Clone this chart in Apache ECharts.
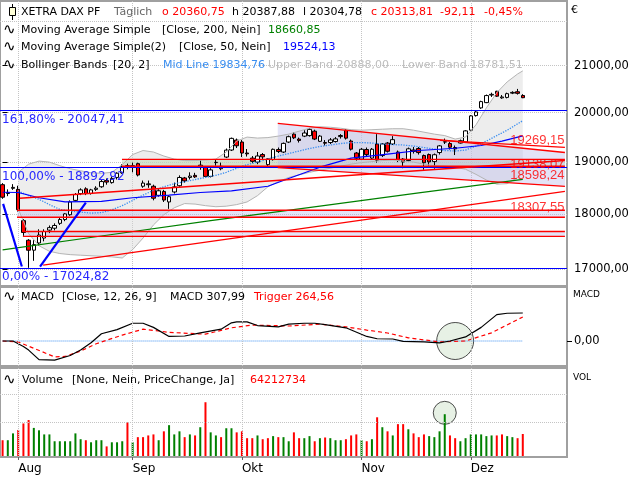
<!DOCTYPE html>
<html><head><meta charset="utf-8">
<script src="https://cdn.jsdelivr.net/npm/echarts@6/dist/echarts.min.js"></script>
<style>html,body{margin:0;padding:0;background:#fff}#c{width:640px;height:480px}</style>
</head><body><div id="c"></div>
<script>
// ---------- DATA ----------
const dates = ['2024-07-29','2024-07-30','2024-07-31','2024-08-01','2024-08-02','2024-08-05','2024-08-06','2024-08-07','2024-08-08','2024-08-09','2024-08-12','2024-08-13','2024-08-14','2024-08-15','2024-08-16','2024-08-19','2024-08-20','2024-08-21','2024-08-22','2024-08-23','2024-08-26','2024-08-27','2024-08-28','2024-08-29','2024-08-30','2024-09-02','2024-09-03','2024-09-04','2024-09-05','2024-09-06','2024-09-09','2024-09-10','2024-09-11','2024-09-12','2024-09-13','2024-09-16','2024-09-17','2024-09-18','2024-09-19','2024-09-20','2024-09-23','2024-09-24','2024-09-25','2024-09-26','2024-09-27','2024-09-30','2024-10-01','2024-10-02','2024-10-03','2024-10-04','2024-10-07','2024-10-08','2024-10-09','2024-10-10','2024-10-11','2024-10-14','2024-10-15','2024-10-16','2024-10-17','2024-10-18','2024-10-21','2024-10-22','2024-10-23','2024-10-24','2024-10-25','2024-10-28','2024-10-29','2024-10-30','2024-10-31','2024-11-01','2024-11-04','2024-11-05','2024-11-06','2024-11-07','2024-11-08','2024-11-11','2024-11-12','2024-11-13','2024-11-14','2024-11-15','2024-11-18','2024-11-19','2024-11-20','2024-11-21','2024-11-22','2024-11-25','2024-11-26','2024-11-27','2024-11-28','2024-11-29','2024-12-02','2024-12-03','2024-12-04','2024-12-05','2024-12-06','2024-12-09','2024-12-10','2024-12-11','2024-12-12','2024-12-13','2024-12-16'];
const futureDates = ['2024-12-17','2024-12-18','2024-12-19','2024-12-20','2024-12-23','2024-12-24','2024-12-27','2024-12-30'];
const monthStartIdx = [3, 25, 46, 69, 90];
const monthNames = ['Aug', 'Sep', 'Okt', 'Nov', 'Dez'];

const opens = [18560,18390,18490,18470,17880,17520,17340,17470,17560,17705,
17740,17830,17900,17990,18260,18390,18480,18390,18470,18520,
18640,18600,18700,18790,18930,18910,18970,18530,18560,18530,
18356,18430,18230,18420,18540,18690,18700,18740,18920,18900,
18720,18990,18870,19100,19240,19440,19400,19180,19080,19000,
19150,18950,19050,19250,19200,19400,19560,19460,19520,19530,
19620,19415,19390,19390,19410,19510,19640,19420,19180,19060,
19250,19080,19360,19130,19380,19360,19200,19060,19030,19240,
19270,19130,19150,19010,19190,19400,19370,19290,19380,19400,
19640,19940,20100,20210,20370,20450,20310,20320,20410,20440,
20360.75];
const closes = [18320,18411,18508,18083,17661,17339,17440,17615,17680,17750,
17790,17900,18006,18230,18370,18460,18390,18460,18493,18620,
18610,18681,18782,18912,18906,18930,18747,18591,18576,18301,
18443,18266,18330,18518,18699,18633,18727,18711,18940,18720,
18847,18996,18918,19238,19474,19325,19180,19164,19015,19121,
19104,19066,19254,19211,19373,19508,19486,19432,19583,19657,
19461,19520,19377,19443,19464,19532,19479,19257,19078,19255,
19148,19256,19039,19362,19215,19448,19034,19003,19264,19211,
19189,18988,19004,19146,19323,19406,19296,19262,19427,19626,
19934,20016,20232,20359,20385,20346,20329,20399,20426,20406,
20313.81];
const lows = [18290,18340,18460,18050,17600,17025,17150,17420,17500,17650,
17700,17800,17870,17970,18240,18360,18360,18370,18440,18500,
18560,18580,18660,18770,18860,18800,18720,18500,18500,18261,
18330,18230,18100,18390,18520,18600,18660,18690,18850,18700,
18700,18930,18840,19080,19220,19280,19100,19110,18980,18960,
19060,18920,19030,19180,19180,19380,19460,19390,19500,19510,
19440,19400,19330,19360,19390,19470,19450,19230,19030,19040,
19120,19050,18990,19100,19190,19340,19000,18880,19010,19170,
19150,18850,18930,18870,19150,19360,19250,19140,19370,19380,
19620,19920,20080,20200,20330,20330,20290,20300,20390,20380,
20304.78];
const highs = [18590,18470,18570,18540,17910,17540,17520,17720,17720,17790,
17830,17930,18020,18260,18400,18490,18510,18480,18530,18650,
18680,18720,18800,18960,18970,18990,18990,18640,18640,18560,
18490,18460,18360,18600,18740,18710,18800,18790,19040,18920,
18880,19050,18990,19270,19490,19470,19440,19260,19120,19200,
19180,19080,19270,19290,19390,19530,19600,19490,19640,19680,
19650,19540,19440,19480,19500,19560,19660,19450,19200,19280,
19290,19280,19560,19380,19400,19520,19230,19080,19290,19300,
19300,19150,19170,19170,19340,19470,19400,19330,19450,19640,
19950,20040,20250,20380,20420,20460,20370,20420,20450,20500,
20387.88];
const prevClose = 18417;
// volume in millions
const volumes = [46,46,66,76,95,105,82,75,63,63,
43,43,43,43,66,49,46,40,46,46,
28,40,40,43,98,40,55,55,60,63,
46,72,90,63,72,55,63,60,84,157,
69,60,55,81,81,69,72,52,52,60,
49,52,58,55,55,43,69,52,52,58,
43,52,54,52,46,46,49,60,63,46,
43,49,113,84,72,60,93,93,78,66,
55,63,58,55,72,122,60,52,43,52,
63,63,63,58,60,60,63,58,55,52,
64.21];

const sma200 = [[0,17345],[20,17611],[40,17880],[61,18152],[80,18403],[100,18661]];
const sma50 = [[0,18415],[3,18410],[7,18310],[12,18230],[19,18240],[25,18310],[32,18360],[38,18410],[44,18440],[51,18530],[55,18680],[61,18900],[67,19080],[74,19160],[80,19230],[87,19275],[92,19330],[96,19420],[100,19524]];
const bbUpper = [[3,18800],[5,18960],[7,19020],[9,19000],[11,18930],[13,18870],[15,18830],[17,18790],[19,18780],[21,18800],[23,18950],[25,19150],[27,19230],[29,19200],[31,19120],[33,19060],[35,19030],[37,19030],[39,19040],[41,19060],[43,19200],[45,19420],[47,19500],[49,19480],[51,19490],[53,19520],[55,19560],[57,19620],[59,19680],[61,19710],[63,19700],[65,19680],[67,19650],[69,19640],[71,19650],[73,19660],[75,19670],[77,19670],[79,19640],[81,19600],[83,19560],[85,19530],[87,19460],[89,19500],[91,19750],[93,20100],[95,20420],[97,20650],[99,20820],[100,20888]];
const bbLower = [[3,18100],[5,17640],[7,17420],[9,17320],[11,17280],[13,17260],[15,17250],[17,17240],[19,17230],[21,17220],[23,17200],[25,17350],[27,17560],[29,17800],[31,17990],[33,18120],[35,18200],[37,18190],[39,18160],[41,18140],[43,18150],[45,18180],[47,18230],[49,18350],[51,18520],[53,18620],[55,18700],[57,18750],[59,18800],[61,18840],[63,18880],[65,18920],[67,18960],[69,18990],[71,19010],[73,19030],[75,19040],[77,19020],[79,19000],[81,18960],[83,18930],[85,18920],[87,18900],[89,18860],[91,18760],[93,18650],[95,18570],[97,18580],[99,18700],[100,18781.51]];
const bbMid = [[3,18440],[5,18350],[7,18280],[9,18180],[11,18090],[13,18060],[15,18040],[17,18020],[19,18030],[21,18080],[23,18160],[25,18260],[27,18360],[29,18450],[31,18520],[33,18580],[35,18620],[37,18660],[39,18700],[41,18740],[43,18800],[45,18880],[47,18950],[49,19000],[51,19060],[53,19120],[55,19170],[57,19220],[59,19270],[61,19310],[63,19340],[65,19370],[67,19390],[69,19390],[71,19380],[73,19360],[75,19350],[77,19340],[79,19320],[81,19290],[83,19260],[85,19230],[87,19220],[89,19240],[91,19320],[93,19420],[95,19530],[97,19640],[99,19770],[100,19834.76]];

const macdLine = [[0,0],[2,0],[4,-60],[5,-100],[7,-205],[10,-210],[13,-160],[15,-100],[17,-20],[19,80],[22,125],[25,195],[27,195],[29,150],[32,50],[35,55],[38,90],[42,130],[44,200],[45,210],[47,210],[49,170],[53,155],[55,185],[58,195],[60,195],[62,180],[66,145],[70,50],[72,25],[75,22],[77,-5],[81,-10],[84,-20],[86,0],[89,45],[92,150],[95,290],[97,305],[100,307.99]];
const macdTrigger = [[0,0],[3,-10],[6,-80],[10,-175],[12,-170],[15,-110],[18,-30],[23,65],[27,130],[30,110],[32,95],[39,75],[44,145],[48,175],[55,165],[61,185],[66,155],[70,120],[74,88],[78,35],[84,-10],[89,0],[94,90],[100,264.56]];

// Fibonacci levels
const fibLevels = [20047.41, 18892.92, 17024.82];
const fibLabels = ['161,80% - 20047,41', '100,00% - 18892,92', '0,00% - 17024,82'];
const fibLegs = [[[0.1,18195],[3.7,17048]], [[7.2,17048],[16,18217]]];
// drawn trend lines / zones (bar index, price)
const redLines = [
  [[52.9,19780],[108.1,19190]],
  [[52.9,18892],[108.1,18527]],
  [[3.3,18300],[108.1,19033]],
  [[7.8,17074],[108.1,18431]],
  [[22.95,19054],[108.1,19054]],
  [[22.95,18920],[108.1,18920]],
  [[2.77,18073],[108.1,18073]],
  [[2.77,17942],[108.1,17942]],
  [[3.9,17680],[108.1,17680]],
  [[3.9,17590],[108.1,17590]],
  [[84.1,19433],[108.1,19292]]
];
const lavenderZones = [
  [[2.77,18073],[108.1,18073],[108.1,17942],[2.77,17942]],
  [[3.9,17680],[108.1,17680],[108.1,17590],[3.9,17590]],
  [[52.9,19780],[108.1,19190],[108.1,18527],[52.9,18892]]
];
const greenZones = [
  [[22.95,19054],[108.1,19054],[108.1,18913],[22.95,18913]]
];
const rightLabelText = ['19269,15', '19138,07', '18598,24', '18307,55'];
const rightLabelAt = [[108.3,19433],[108.3,18960],[108.3,18740],[108.3,18130]];
const macdCircle = [[87, 0]];
const volCircle = [[85, 126]];

const priceTicks = [17000, 18000, 19000, 20000, 21000];
const priceGrid = [17000, 18000, 19000, 20000, 21000, 22000];
const volGrid = [99, 181];

// ---------- CHART ----------
const chart = echarts.init(document.getElementById('c'), null, {renderer: 'canvas', width: 640, height: 480});
const cats = dates.concat(futureDates);
const candleData = opens.map((o, i) => [o, closes[i], lows[i], highs[i]]);
const volData = volumes.map((v, i) => ({
  value: v,
  itemStyle: {color: closes[i] >= (i ? closes[i - 1] : prevClose) ? '#008000' : '#ff0000'}
}));
const fmtNum = v => v.toFixed(2).replace('.', ',');
const dotted = {color: '#c4c4c4', type: 'dotted', width: 1};
const vLines = monthStartIdx.map(i => ({xAxis: i}));

function polySeries(polys, fill) {
  return {
    type: 'custom', xAxisIndex: 1, yAxisIndex: 0, silent: true, z: 1,
    data: polys.map((p, i) => [i]),
    renderItem: (params, api) => ({
      type: 'polygon',
      shape: {points: polys[params.dataIndex].map(pt => api.coord(pt))},
      style: {fill: fill}
    })
  };
}
function lineOv(data, color, width, type, z) {
  return {type: 'line', xAxisIndex: 1, yAxisIndex: 0, data: data, symbol: 'none', silent: true, z: z || 4,
    lineStyle: {color: color, width: width, type: type || 'solid'}};
}

const FONT = 'DejaVu Sans';
function txt(x, y, s, color, size, family) {
  return {type: 'text', x: x, y: y, silent: true, z: 100,
    style: {text: s, fill: color || '#000', font: (size || 11) + 'px "' + (family || FONT) + '"',
      verticalAlign: 'middle', textVerticalAlign: 'middle'}};
}

const series = [];
// Bollinger fill
series.push(polySeries([bbUpper.concat(bbLower.slice().reverse())], 'rgba(215,215,215,0.45)'));
series.push(polySeries(greenZones, 'rgba(185,215,175,0.5)'));
series.push(polySeries(lavenderZones, 'rgba(185,185,235,0.4)'));
// candles
series.push({
  type: 'candlestick', xAxisIndex: 0, yAxisIndex: 0, data: candleData, barWidth: 4, z: 3,
  itemStyle: {color: '#ffffff', color0: '#ff0000', borderColor: '#000000', borderColor0: '#000000', borderWidth: 1},
  markLine: {silent: true, symbol: ['none', 'none'], label: {show: false}, lineStyle: dotted, z: 0,
    data: priceGrid.map(v => ({yAxis: v})).concat(vLines)}
});
// Bollinger lines
series.push(lineOv(bbUpper, '#b4b4b4', 1));
series.push(lineOv(bbLower, '#b4b4b4', 1));
series.push(lineOv(bbMid, '#3a8ef0', 1.3, 'dotted'));
// Moving averages
series.push(Object.assign(lineOv(sma200, '#008000', 1.2), {
  markLine: {silent: true, symbol: ['none', 'none'], lineStyle: {color: '#0000ff', width: 1.2, type: 'solid'},
    label: {show: true, position: 'insideStartBottom', color: '#2828ff', fontSize: 12, fontFamily: FONT, distance: [2, 3]},
    data: fibLevels.map((v, i) => ({yAxis: v, label: {formatter: fibLabels[i]}}))}
}));
series.push(lineOv(sma50, '#0000ff', 1.2));
// red trend lines
redLines.forEach(seg => series.push(lineOv(seg, '#ff0000', 1.4, 'solid', 5)));
// blue fib legs
fibLegs.forEach(seg => series.push(lineOv(seg, '#0000ff', 2.2, 'solid', 5)));
// red value labels at the right edge
series.push({
  type: 'scatter', xAxisIndex: 1, yAxisIndex: 0, data: rightLabelAt, symbolSize: 1, silent: true, z: 6,
  itemStyle: {color: 'rgba(0,0,0,0)'},
  label: {show: true, position: 'left', distance: 1, color: '#ff0000', fontSize: 13, fontFamily: 'Liberation Sans',
    formatter: p => rightLabelText[p.dataIndex]}
});
// MACD
series.push({type: 'scatter', xAxisIndex: 2, yAxisIndex: 1, data: macdCircle, symbolSize: 37, silent: true, z: 1,
  itemStyle: {color: 'rgba(200,222,195,0.55)', borderColor: '#222', borderWidth: 1}});
series.push({type: 'line', xAxisIndex: 2, yAxisIndex: 1, data: [[0, 0], [100, 0]], symbol: 'none', silent: true, z: 2,
  lineStyle: {color: '#3a8ef0', width: 1, type: 'dotted'},
  markLine: {silent: true, symbol: ['none', 'none'], label: {show: false}, lineStyle: dotted, data: vLines}});
series.push({type: 'line', xAxisIndex: 2, yAxisIndex: 1, data: macdTrigger, symbol: 'none', silent: true, z: 3,
  lineStyle: {color: '#ff0000', width: 1.2, type: [4, 3]}});
series.push({type: 'line', xAxisIndex: 2, yAxisIndex: 1, data: macdLine, symbol: 'none', silent: true, z: 4,
  lineStyle: {color: '#000000', width: 1.2}});
// Volume
series.push({type: 'scatter', xAxisIndex: 3, yAxisIndex: 2, data: volCircle, symbolSize: 23, silent: true, z: 1,
  itemStyle: {color: 'rgba(200,222,195,0.55)', borderColor: '#222', borderWidth: 1}});
series.push({type: 'bar', xAxisIndex: 3, yAxisIndex: 2, data: volData, barWidth: 2, silent: true, z: 3,
  markLine: {silent: true, symbol: ['none', 'none'], label: {show: false}, lineStyle: dotted,
    data: volGrid.map(v => ({yAxis: v})).concat(vLines)}});

const gridBase = {left: 0, width: 567, show: true, borderColor: '#a0a0a0', borderWidth: 2, backgroundColor: 'rgba(0,0,0,0)', containLabel: false, outerBoundsMode: 'none'};
const hiddenX = {show: false, axisLine: {show: false}, axisTick: {show: false}, axisLabel: {show: false}, splitLine: {show: false}};
const option = {
  animation: false,
  backgroundColor: '#ffffff',
  textStyle: {fontFamily: FONT},
  grid: [
    Object.assign({}, gridBase, {top: 1, height: 285}),
    Object.assign({}, gridBase, {top: 287, height: 79}),
    Object.assign({}, gridBase, {top: 368, height: 89})
  ],
  xAxis: [
    Object.assign({type: 'category', gridIndex: 0, data: cats, boundaryGap: true}, hiddenX),
    Object.assign({type: 'value', gridIndex: 0, min: -0.5, max: 108.5}, hiddenX),
    Object.assign({type: 'category', gridIndex: 1, data: cats, boundaryGap: true}, hiddenX),
    {type: 'category', gridIndex: 2, data: cats, boundaryGap: true,
      axisLine: {show: false},
      axisTick: {show: true, alignWithLabel: true, length: 4, interval: i => monthStartIdx.includes(i), lineStyle: {color: '#606060'}},
      axisLabel: {show: true, interval: i => monthStartIdx.includes(i), align: 'left', margin: 6, fontSize: 12, color: '#000', fontFamily: FONT,
        formatter: (v, i) => monthNames[monthStartIdx.indexOf(i)] || ''},
      splitLine: {show: false}}
  ],
  yAxis: [
    {type: 'log', logBase: 10, gridIndex: 0, position: 'right', min: 16707, max: 22459,
      axisLine: {show: false}, splitLine: {show: false}, minorTick: {show: false}, minorSplitLine: {show: false},
      axisTick: {show: true, length: 5, customValues: priceTicks, lineStyle: {color: '#000'}},
      axisLabel: {show: true, customValues: priceTicks, margin: 7, fontSize: 11.5, color: '#000', fontFamily: FONT, formatter: v => fmtNum(v)}},
    {type: 'value', gridIndex: 1, position: 'right', min: -275, max: 594,
      axisLine: {show: false}, splitLine: {show: false},
      axisTick: {show: true, length: 5, customValues: [0], lineStyle: {color: '#000'}},
      axisLabel: {show: true, customValues: [0], margin: 7, fontSize: 11.5, color: '#000', fontFamily: FONT, formatter: v => fmtNum(v)}},
    {type: 'value', gridIndex: 2, position: 'right', min: -3, max: 257, show: false}
  ],
  series: series,
  graphic: [
    // candle icon
    {type: 'line', silent: true, z: 100, shape: {x1: 12.5, y1: 4, x2: 12.5, y2: 20}, style: {stroke: '#000', lineWidth: 1}},
    {type: 'rect', silent: true, z: 101, shape: {x: 9.5, y: 7.5, width: 6, height: 8}, style: {fill: '#ffffd8', stroke: '#000', lineWidth: 1}},
    txt(21, 12, 'XETRA DAX PF'), txt(114, 12, 'Täglich', '#666'),
    txt(162, 12, 'o 20360,75', '#ff0000'), txt(232, 12, 'h 20387,88'), txt(303, 12, 'l 20304,78'),
    txt(371, 12, 'c 20313,81', '#ff0000'), txt(440, 12, '-92,11', '#ff0000'), txt(484, 12, '-0,45%', '#ff0000'),
    txt(3, 30, '∿', '#000', 15), txt(21, 30, 'Moving Average Simple'), txt(162, 30, '[Close, 200, Nein]'), txt(268, 30, '18660,85', '#008000'),
    txt(3, 47.5, '∿', '#000', 15), txt(21, 47.5, 'Moving Average Simple(2)'), txt(179, 47.5, '[Close, 50, Nein]'), txt(283, 47.5, '19524,13', '#0000ff'),
    txt(3, 65.5, '∿', '#000', 15), txt(21, 65.5, 'Bollinger Bands'), txt(113, 65.5, '[20, 2]'), txt(163, 65.5, 'Mid Line 19834,76', '#3a8ef0'),
    txt(268, 65.5, 'Upper Band 20888,00', '#bdbdbd'), txt(402, 65.5, 'Lower Band 18781,51', '#bdbdbd'),
    txt(3, 297, '∿', '#000', 15), txt(21, 297, 'MACD'), txt(62, 297, '[Close, 12, 26, 9]'), txt(170, 297, 'MACD 307,99'), txt(254, 297, 'Trigger 264,56', '#ff0000'),
    txt(3, 380, '∿', '#000', 15), txt(22, 380, 'Volume'), txt(72, 380, '[None, Nein, PriceChange, Ja]'), txt(250, 380, '64212734', '#ff0000'),
    txt(571, 10, '€', '#000', 11), txt(573, 295, 'MACD', '#000', 9), txt(573, 378, 'VOL', '#000', 9)
  ]
};
chart.setOption(option);
</script>
</body></html>
